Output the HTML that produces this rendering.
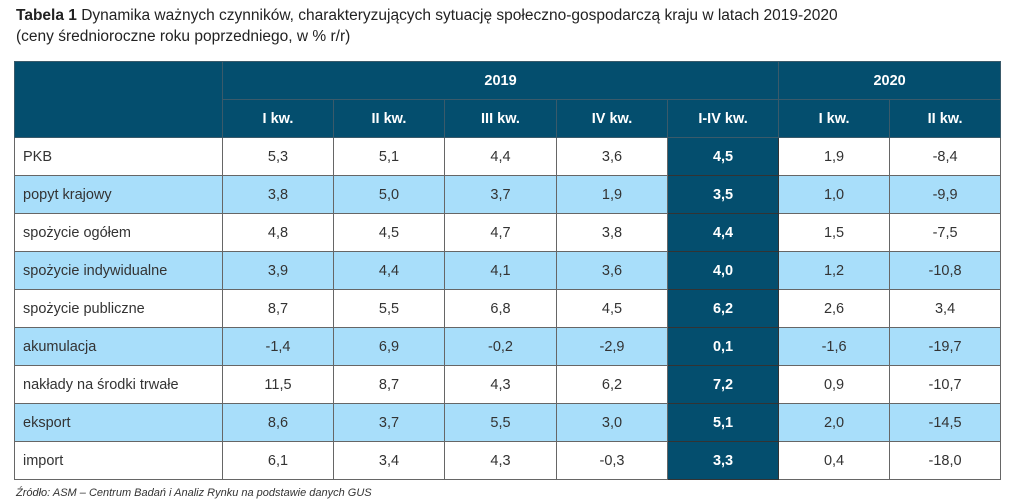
<!DOCTYPE html>
<html><head><meta charset="utf-8"><style>
body{margin:0;width:1024px;height:502px;background:#fff;font-family:"Liberation Sans",sans-serif;position:relative;overflow:hidden}
.t{position:absolute;left:16px;font-size:15.5px;color:#222}
table{position:absolute;left:14px;top:61px;border-collapse:collapse;table-layout:fixed;width:986px}
td,th{border:1px solid #666;font-size:14.5px;padding:0;text-align:center;color:#333;font-weight:normal}
th{background:#044e6e;color:#fff;font-weight:bold;border-color:#3a5a6a}
tr.r td{height:37px}
tr.b td{background:#a8defa}
td.l{text-align:left;padding-left:8px}
td.d{background:#044e6e!important;color:#fff;font-weight:bold;border-color:#333}
.f{position:absolute;left:16px;top:487px;font-size:11px;font-style:italic;color:#333}
</style></head><body>
<div class="t" style="top:7px"><b>Tabela 1</b> Dynamika ważnych czynników, charakteryzujących sytuację społeczno-gospodarczą kraju w latach 2019-2020</div>
<div class="t" style="top:28px">(ceny średnioroczne roku poprzedniego, w % r/r)</div>
<table>
<colgroup><col style="width:208px"><col style="width:111px"><col style="width:111px"><col style="width:112px"><col style="width:111px"><col style="width:111px"><col style="width:111px"><col style="width:111px"></colgroup>
<tr style="height:38px"><th rowspan="2"></th><th colspan="5">2019</th><th colspan="2">2020</th></tr>
<tr style="height:38px"><th>I kw.</th><th>II kw.</th><th>III kw.</th><th>IV kw.</th><th>I-IV kw.</th><th>I kw.</th><th>II kw.</th></tr>
<tr class="r"><td class="l">PKB</td><td>5,3</td><td>5,1</td><td>4,4</td><td>3,6</td><td class="d">4,5</td><td>1,9</td><td>-8,4</td></tr>
<tr class="r b"><td class="l">popyt krajowy</td><td>3,8</td><td>5,0</td><td>3,7</td><td>1,9</td><td class="d">3,5</td><td>1,0</td><td>-9,9</td></tr>
<tr class="r"><td class="l">spożycie ogółem</td><td>4,8</td><td>4,5</td><td>4,7</td><td>3,8</td><td class="d">4,4</td><td>1,5</td><td>-7,5</td></tr>
<tr class="r b"><td class="l">spożycie indywidualne</td><td>3,9</td><td>4,4</td><td>4,1</td><td>3,6</td><td class="d">4,0</td><td>1,2</td><td>-10,8</td></tr>
<tr class="r"><td class="l">spożycie publiczne</td><td>8,7</td><td>5,5</td><td>6,8</td><td>4,5</td><td class="d">6,2</td><td>2,6</td><td>3,4</td></tr>
<tr class="r b"><td class="l">akumulacja</td><td>-1,4</td><td>6,9</td><td>-0,2</td><td>-2,9</td><td class="d">0,1</td><td>-1,6</td><td>-19,7</td></tr>
<tr class="r"><td class="l">nakłady na środki trwałe</td><td>11,5</td><td>8,7</td><td>4,3</td><td>6,2</td><td class="d">7,2</td><td>0,9</td><td>-10,7</td></tr>
<tr class="r b"><td class="l">eksport</td><td>8,6</td><td>3,7</td><td>5,5</td><td>3,0</td><td class="d">5,1</td><td>2,0</td><td>-14,5</td></tr>
<tr class="r"><td class="l">import</td><td>6,1</td><td>3,4</td><td>4,3</td><td>-0,3</td><td class="d">3,3</td><td>0,4</td><td>-18,0</td></tr>
</table>
<div class="f">Źródło: ASM – Centrum Badań i Analiz Rynku na podstawie danych GUS</div>
</body></html>
